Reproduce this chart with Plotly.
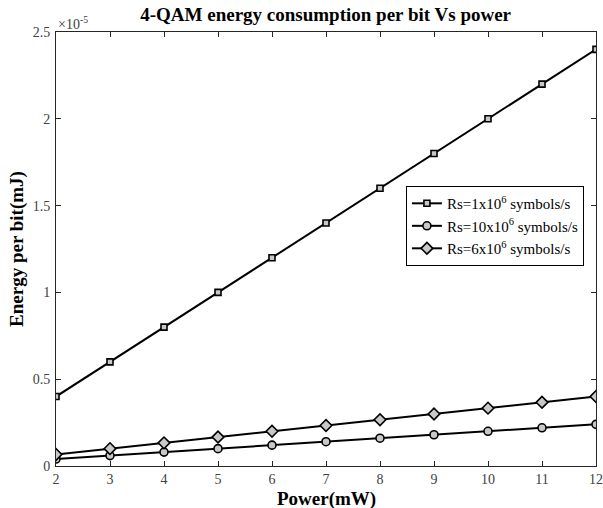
import plotly.graph_objects as go

power = [2, 3, 4, 5, 6, 7, 8, 9, 10, 11, 12]
rs1 = [0.4e-5, 0.6e-5, 0.8e-5, 1.0e-5, 1.2e-5, 1.4e-5, 1.6e-5, 1.8e-5, 2.0e-5, 2.2e-5, 2.4e-5]
rs10 = [0.04e-5, 0.06e-5, 0.08e-5, 0.10e-5, 0.12e-5, 0.14e-5, 0.16e-5, 0.18e-5, 0.20e-5, 0.22e-5, 0.24e-5]
rs6 = [0.0667e-5, 0.1e-5, 0.1333e-5, 0.1667e-5, 0.2e-5, 0.2333e-5, 0.2667e-5, 0.3e-5, 0.3333e-5, 0.3667e-5, 0.4e-5]
ytickvals = [0, 0.5e-5, 1.0e-5, 1.5e-5, 2.0e-5, 2.5e-5]
yticktext = ["0", "0.5", "1", "1.5", "2", "2.5"]
names = ["Rs=1x10<sup>6</sup> symbols/s", "Rs=10x10<sup>6</sup> symbols/s", "Rs=6x10<sup>6</sup> symbols/s"]

font = "Liberation Serif, Times New Roman, serif"
fig = go.Figure()
for ys, nm, sym, sz in [(rs1, names[0], "square", 6), (rs10, names[1], "circle", 8), (rs6, names[2], "diamond", 9)]:
    fig.add_trace(go.Scatter(
        x=power, y=ys, name=nm, mode="lines+markers",
        line=dict(color="black", width=2),
        marker=dict(symbol=sym, size=sz, color="#c8c8c8", line=dict(color="black", width=1.6)),
    ))

axcommon = dict(showline=True, linecolor="#262626", linewidth=1, mirror="ticks", ticks="inside",
                ticklen=5, tickcolor="#262626", showgrid=False, zeroline=False, automargin=False,
                tickfont=dict(family=font, size=14, color="#404040"))
fig.update_xaxes(range=[2, 12], tickvals=power, **axcommon)
fig.update_yaxes(range=[0, 2.5e-5], tickvals=ytickvals, ticktext=yticktext, ticklabelstandoff=2,
                 title=dict(text="<b>Energy per bit(mJ)</b>", font=dict(family=font, size=19, color="black"), standoff=4), **axcommon)

fig.update_layout(
    width=603, height=508,
    margin=dict(l=56, r=7, t=32, b=42),
    plot_bgcolor="white", paper_bgcolor="white",
    title=dict(text="<b>4-QAM energy consumption per bit Vs power</b>", x=0.54, xanchor="center", y=0.972, yanchor="middle",
               font=dict(family=font, size=19, color="black")),
    legend=dict(x=0.648, y=0.645, xanchor="left", yanchor="top", bordercolor="black", borderwidth=1,
                bgcolor="white", font=dict(family=font, size=15, color="black"), tracegroupgap=0,
                itemwidth=30),
    showlegend=True,
)
fig.add_annotation(xref="paper", yref="paper", x=0.5, y=0, xanchor="center", yanchor="middle", showarrow=False,
                   text="<b>Power(mW)</b>", font=dict(family=font, size=19, color="black"), yshift=-33)
fig.add_annotation(xref="paper", yref="paper", x=0.0, y=1.0, xanchor="left", yanchor="bottom", showarrow=False,
                   text="×10<sup>-5</sup>", font=dict(family=font, size=14, color="#404040"), yshift=-2)
fig.write_html("out.html")
